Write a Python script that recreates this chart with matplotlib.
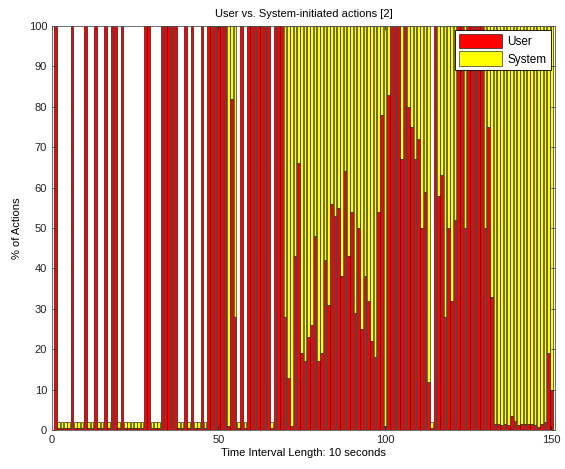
import matplotlib
matplotlib.use("Agg")
import matplotlib.pyplot as plt
import numpy as np

plt.rcParams['font.family'] = ['Liberation Sans', 'DejaVu Sans']

intervals = list(range(1, 151))

user = [
    100, 0.6, 0.6, 0.6, 0.6, 100, 0.6, 0.6, 0.6, 100,      # 1-10
    0.6, 0.6, 100, 0.6, 0.6, 100, 0.6, 100, 100, 0.6,      # 11-20
    100, 0.6, 0.6, 0.6, 0.6, 0.6, 0.6, 100, 100, 0.6,      # 21-30
    0.6, 0.6, 100, 100, 100, 100, 100, 0.6, 0.6, 100,      # 31-40
    0.6, 100, 0.6, 0.6, 100, 0.6, 100, 100, 100, 100,      # 41-50
    100, 100, 1, 82, 28, 0.6, 100, 0.6, 100, 100,          # 51-60
    100, 100, 100, 100, 100, 0.6, 100, 100, 100, 28,       # 61-70
    13, 1, 43, 66, 19, 17, 23, 26, 48, 17,                 # 71-80
    19, 42, 31, 56, 53, 55, 38, 64, 43, 54,                # 81-90
    29, 50, 25, 38, 32, 22, 18, 54, 78, 1,                 # 91-100
    83, 100, 100, 100, 67, 100, 80, 75, 67, 72,            # 101-110
    50, 59, 12, 0.6, 100, 58, 63, 28, 50, 32,              # 111-120
    52, 100, 100, 50, 100, 100, 100, 100, 100, 50,         # 121-130
    75, 33, 1.5, 1.5, 1.2, 1.5, 1.2, 3.4, 2.2, 1.2,        # 131-140
    1.5, 1.5, 1.5, 1.5, 1.2, 0.7, 1.5, 2.0, 19, 10,        # 141-150
]

system = [
    0, 1.4, 1.4, 1.4, 1.4, 0, 1.4, 1.4, 1.4, 0,            # 1-10
    1.4, 1.4, 0, 1.4, 1.4, 0, 1.4, 0, 0, 1.4,              # 11-20
    0, 1.4, 1.4, 1.4, 1.4, 1.4, 1.4, 0, 0, 1.4,            # 21-30
    1.4, 1.4, 0, 0, 0, 0, 0, 1.4, 1.4, 0,                  # 31-40
    1.4, 0, 1.4, 1.4, 0, 1.4, 0, 0, 0, 0,                  # 41-50
    0, 0, 99, 18, 72, 1.4, 0, 1.4, 0, 0,                   # 51-60
    0, 0, 0, 0, 0, 1.4, 0, 0, 0, 72,                       # 61-70
    87, 99, 57, 34, 81, 83, 77, 74, 52, 83,                # 71-80
    81, 58, 69, 44, 47, 45, 62, 36, 57, 46,                # 81-90
    71, 50, 75, 62, 68, 78, 82, 46, 22, 99,                # 91-100
    17, 0, 0, 0, 33, 0, 20, 25, 33, 28,                    # 101-110
    50, 41, 88, 1.4, 0, 42, 37, 72, 50, 68,                # 111-120
    48, 0, 0, 50, 0, 0, 0, 0, 0, 50,                       # 121-130
    25, 67, 98.5, 98.5, 98.8, 98.5, 98.8, 96.6, 97.8, 98.8,  # 131-140
    98.5, 98.5, 98.5, 98.5, 98.8, 99.3, 98.5, 98.0, 81, 90,  # 141-150
]

fig = plt.figure(figsize=(5.65, 4.69), dpi=100)
ax = fig.add_axes([0.092, 0.083, 0.89, 0.862])

ax.bar(intervals, user, width=0.8, color='#ff0000', edgecolor='#000000',
       linewidth=0.4, label='User')
ax.bar(intervals, system, width=0.8, bottom=user, color='#ffff00',
       edgecolor='#000000', linewidth=0.4, label='System')

ax.set_xlim(0, 151)
ax.set_ylim(0, 100)
ax.set_xticks([0, 50, 100, 150])
ax.set_yticks(np.arange(0, 101, 10))
ax.tick_params(direction='in', top=True, right=True, labelsize=8, length=3,
               width=0.5, colors='#222222')
for s in ax.spines.values():
    s.set_linewidth(0.6)
    s.set_color('#555555')

ax.set_title('User vs. System-initiated actions [2]', fontsize=8, pad=6)
ax.set_xlabel('Time Interval Length: 10 seconds', fontsize=8, labelpad=2)
ax.set_ylabel('% of Actions', fontsize=8, labelpad=5)

leg = ax.legend(loc='upper right', fontsize=8.5, fancybox=False, framealpha=1,
                edgecolor='#000000', borderpad=0.35, handlelength=3.6,
                handleheight=1.5, labelspacing=0.25, handletextpad=0.5,
                borderaxespad=0.35)
leg.get_frame().set_linewidth(0.6)

fig.savefig('out.png', dpi=100)
